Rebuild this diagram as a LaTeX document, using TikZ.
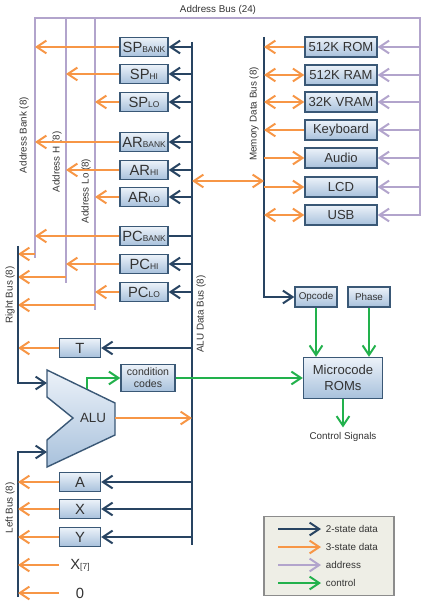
\documentclass[tikz,border=0pt]{standalone}
\usepackage{fontspec}
\setmainfont{Liberation Sans}
\usetikzlibrary{arrows.meta}
\definecolor{dblue}{RGB}{40,68,98}
\definecolor{orng}{RGB}{247,150,70}
\definecolor{lav}{RGB}{178,164,204}
\definecolor{grn}{RGB}{34,177,76}
\definecolor{boxtop}{RGB}{236,242,249}
\definecolor{boxbot}{RGB}{168,193,220}
\definecolor{boxline}{RGB}{58,88,118}
\definecolor{keyfill}{RGB}{238,238,230}
\newcommand\rsub[1]{{\fontsize{6}{6}\selectfont #1}}
\begin{document}
\begin{tikzpicture}[x=0.025cm,y=-0.025cm,>={Straight Barb[length=2.4mm,width=3.2mm]},
 font=\fontsize{7}{8}\selectfont,text=black!80,
 box/.style={draw=boxline,line width=1pt,top color=boxtop,bottom color=boxbot,inner sep=1pt},
 reg/.style={box,minimum width=1.2cm,minimum height=0.475cm,font=\fontsize{10.5}{11}\selectfont},
 mem/.style={box,minimum width=1.8cm,minimum height=0.5cm,font=\fontsize{9.3}{10}\selectfont},
 small/.style={box,minimum width=1.025cm,minimum height=0.475cm,font=\fontsize{10.5}{11}\selectfont},
 lbl/.style={minimum width=1.025cm,inner sep=1pt,font=\fontsize{10.5}{11}\selectfont},
 buslbl/.style={rotate=90,font=\fontsize{7}{8}\selectfont},
 twostate/.style={color=dblue,line width=1.4pt},
 threestate/.style={color=orng,line width=1.4pt},
 addr/.style={color=lav,line width=1.4pt},
 ctrl/.style={color=grn,line width=1.4pt}]
\useasboundingbox (0,0) rectangle (434,609);
\coordinate (abT) at (35,18);
\coordinate (abR) at (35,254);
\coordinate (abB) at (35,258);
\coordinate (ahT) at (66,18);
\coordinate (ahR) at (66,277);
\coordinate (ahB) at (66,283);
\coordinate (alT) at (95,18);
\coordinate (alR) at (95,305);
\coordinate (alB) at (95,310);
\coordinate (arT) at (420,18);
\coordinate (arB) at (420,216);
\coordinate (dbT) at (192,42);
\coordinate (dbB) at (192,545);
\coordinate (mbT) at (264,37);
\coordinate (xfer) at (192,181);
\coordinate (rbT) at (18,246);
\coordinate (rbB) at (18,383);
\coordinate (lbT) at (18,452);
\coordinate (lbB) at (18,597);
\coordinate (aluIn1) at (47,383);
\coordinate (aluIn2) at (47,452);
\coordinate (aluR) at (115,418);
\coordinate (aluCC) at (87,389);
\node at (218,10) {Address Bus (24)};
\node[buslbl] at (24,135) {Address Bank (8)};
\node[buslbl] at (57,162) {Address H (8)};
\node[buslbl] at (86,191) {Address Lo (8)};
\node[buslbl] at (254,114) {Memory Data Bus (8)};
\node[buslbl] at (201,314) {ALU Data Bus (8)};
\node[buslbl] at (10,295) {Right Bus (8)};
\node[buslbl] at (10,508) {Left Bus (8)};
\draw[addr] (abB) -- (abT) -- (arT) -- (arB);
\draw[addr] (ahT) -- (ahB);
\draw[addr] (alT) -- (alB);
\draw[twostate] (dbT) -- (dbB);
\node[reg] (spbank) at (144,47) {SP\rsub{BANK}};
\node[reg] (sphi) at (144,74) {SP\rsub{HI}};
\node[reg] (splo) at (144,102) {SP\rsub{LO}};
\node[reg] (arbank) at (144,142) {AR\rsub{BANK}};
\node[reg] (arhi) at (144,170) {AR\rsub{HI}};
\node[reg] (arlo) at (144,197) {AR\rsub{LO}};
\node[reg] (pcbank) at (144,236) {PC\rsub{BANK}};
\node[reg] (pchi) at (144,264) {PC\rsub{HI}};
\node[reg] (pclo) at (144,292) {PC\rsub{LO}};
\draw[twostate,->] (spbank.east -| dbT) -- (spbank.east);
\draw[twostate,->] (sphi.east -| dbT) -- (sphi.east);
\draw[twostate,->] (splo.east -| dbT) -- (splo.east);
\draw[twostate,->] (arbank.east -| dbT) -- (arbank.east);
\draw[twostate,->] (arhi.east -| dbT) -- (arhi.east);
\draw[twostate,->] (arlo.east -| dbT) -- (arlo.east);
\draw[twostate] (pcbank.east -| dbT) -- (pcbank.east);
\draw[twostate,->] (pchi.east -| dbT) -- (pchi.east);
\draw[twostate,->] (pclo.east -| dbT) -- (pclo.east);
\draw[threestate,->] (spbank.west) -- (spbank.west -| abT);
\draw[threestate,->] (sphi.west) -- (sphi.west -| ahT);
\draw[threestate,->] (splo.west) -- (splo.west -| alT);
\draw[threestate,->] (arbank.west) -- (arbank.west -| abT);
\draw[threestate,->] (arhi.west) -- (arhi.west -| ahT);
\draw[threestate,->] (arlo.west) -- (arlo.west -| alT);
\draw[threestate,->] (pcbank.west) -- (pcbank.west -| abT);
\draw[threestate,->] (pchi.west) -- (pchi.west -| ahT);
\draw[threestate,->] (pclo.west) -- (pclo.west -| alT);
\node[mem] (rom) at (341,47) {512K ROM};
\node[mem] (ram) at (341,75) {512K RAM};
\node[mem] (vram) at (341,102) {32K VRAM};
\node[mem] (kbd) at (341,130) {Keyboard};
\node[mem] (audio) at (341,158) {Audio};
\node[mem] (lcd) at (341,187) {LCD};
\node[mem] (usb) at (341,215) {USB};
\node[box,minimum width=1.05cm,minimum height=0.5cm] (opcode) at (316,297) {Opcode};
\node[box,minimum width=1.05cm,minimum height=0.5cm] (phase) at (369,297) {Phase};
\draw[twostate,->] (mbT) |- (opcode.west);
\draw[threestate,->] (rom.west) -- (rom.west -| mbT);
\draw[threestate,<->] (ram.west -| mbT) -- (ram.west);
\draw[threestate,<->] (vram.west -| mbT) -- (vram.west);
\draw[threestate,->] (kbd.west) -- (kbd.west -| mbT);
\draw[threestate,->] (audio.west -| mbT) -- (audio.west);
\draw[threestate,->] (lcd.west -| mbT) -- (lcd.west);
\draw[threestate,<->] (usb.west -| mbT) -- (usb.west);
\draw[threestate,<->] (xfer) -- (xfer -| mbT);
\draw[addr,->] (rom.east -| arT) -- (rom.east);
\draw[addr,->] (ram.east -| arT) -- (ram.east);
\draw[addr,->] (vram.east -| arT) -- (vram.east);
\draw[addr,->] (kbd.east -| arT) -- (kbd.east);
\draw[addr,->] (audio.east -| arT) -- (audio.east);
\draw[addr,->] (lcd.east -| arT) -- (lcd.east);
\draw[addr,->] (usb.east -| arT) -- (usb.east);
\draw[threestate,->] (abR) -- (abR -| rbT);
\draw[threestate,->] (ahR) -- (ahR -| rbT);
\draw[threestate,->] (alR) -- (alR -| rbT);
\node[small] (t) at (80,348) {T};
\draw[twostate,->] (t.east -| dbT) -- (t.east);
\draw[threestate,->] (t.west) -- (t.west -| rbT);
\draw[twostate,->] (rbT) -- (rbB) -- (aluIn1);
\draw[twostate,->] (lbB) -- (lbT) -- (aluIn2);
\draw[boxline,line width=1pt,top color=boxtop,bottom color=boxbot] (47,370) -- (115,403) -- (115,435) -- (47,467) -- (47,440) -- (73,418) -- (47,397) -- cycle;
\node[font=\fontsize{9.5}{10}\selectfont] (alu) at (93,418) {ALU};
\draw[threestate,->] (aluR) -- (aluR -| dbT);
\node[box,minimum width=1.35cm,minimum height=0.675cm,align=center,font=\fontsize{7.5}{8.5}\selectfont] (cc) at (148,378) {condition\\codes};
\node[box,minimum width=1.975cm,minimum height=1.025cm,align=center,font=\fontsize{9.3}{11}\selectfont] (mrom) at (343,378) {Microcode\\ROMs};
\node (ctl) at (343,437) {Control Signals};
\draw[ctrl,->] (aluCC) |- (cc.west);
\draw[ctrl,->] (cc.east) -- (mrom.west);
\draw[ctrl,->] (opcode.south) -- (opcode.south |- mrom.north);
\draw[ctrl,->] (phase.south) -- (phase.south |- mrom.north);
\draw[ctrl,->] (mrom.south) -- (ctl.north);
\node[small] (a) at (80,482) {A};
\node[small] (x) at (80,509) {X};
\node[small] (y) at (80,537) {Y};
\node[lbl] (x7) at (80,565) {X\rsub{[7]}};
\node[lbl] (zero) at (80,593) {0};
\draw[twostate,->] (a.east -| dbT) -- (a.east);
\draw[twostate,->] (x.east -| dbT) -- (x.east);
\draw[twostate,->] (y.east -| dbT) -- (y.east);
\draw[threestate,->] (a.west) -- (a.west -| lbT);
\draw[threestate,->] (x.west) -- (x.west -| lbT);
\draw[threestate,->] (y.west) -- (y.west -| lbT);
\draw[threestate,->] (x7.west) -- (x7.west -| lbT);
\draw[threestate,->] (zero.west) -- (zero.west -| lbT);
\node[draw=black!45,fill=keyfill,line width=0.8pt,minimum width=3.25cm,minimum height=1.975cm] (key) at (329,556) {};
\coordinate (k1s) at (278,529);
\coordinate (k2s) at (278,547);
\coordinate (k3s) at (278,565);
\coordinate (k4s) at (278,583);
\node[anchor=west] (k1) at (321,529) {2-state data};
\node[anchor=west] (k2) at (321,547) {3-state data};
\node[anchor=west] (k3) at (321,565) {address};
\node[anchor=west] (k4) at (321,583) {control};
\draw[twostate,->] (k1s) -- (k1.west);
\draw[threestate,->] (k2s) -- (k2.west);
\draw[addr,->] (k3s) -- (k3.west);
\draw[ctrl,->] (k4s) -- (k4.west);
\end{tikzpicture}
\end{document}
